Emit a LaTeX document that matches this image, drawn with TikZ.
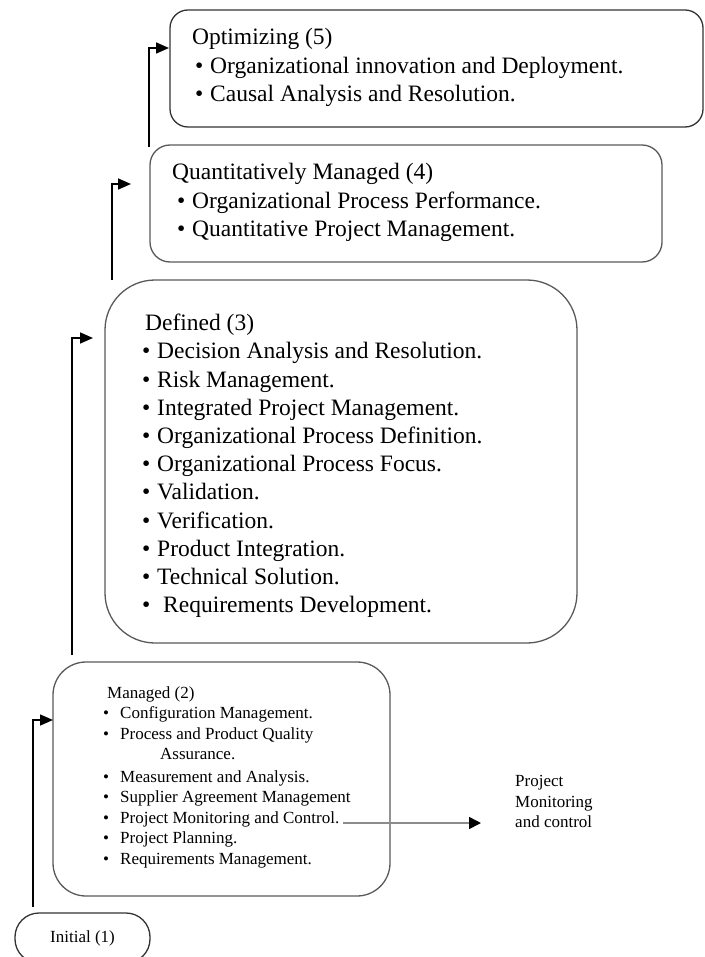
\documentclass[tikz,border=0pt]{standalone}
\usepackage{fontspec}
\setmainfont{Liberation Serif}
\usetikzlibrary{arrows.meta}

\newcommand{\bul}{\makebox[15pt][l]{\textbullet}}
\newcommand{\sbul}{\makebox[17pt][l]{\textbullet}}

\tikzset{
  stagebox/.style={draw=black!65, line width=1.3pt, inner sep=0pt},
  bigtext/.style={font=\fontsize{23.5pt}{28.5pt}\selectfont, align=left, anchor=north west, inner sep=0pt},
  smalltext/.style={font=\fontsize{17pt}{20.5pt}\selectfont, align=left, anchor=north west, inner sep=0pt},
  uparrow/.style={draw=black, line width=1.6pt, -{Triangle[length=13pt,width=11pt]}},
  sidearrow/.style={draw=black!45, line width=1.6pt, -{Triangle[length=12pt,width=12pt,black]}},
}

\begin{document}
\begin{tikzpicture}[x=1pt,y=-1pt]
\useasboundingbox (0,0) rectangle (704,957);

% the five levels
\node[stagebox, draw=black!80, rounded corners=18pt, minimum width=533pt, minimum height=117pt] (opt) at (436.5,68.5) {};
\node[stagebox, rounded corners=20pt, minimum width=512pt, minimum height=117pt] (quant) at (406,203.5) {};
\node[stagebox, rounded corners=50pt, minimum width=472pt, minimum height=363pt] (defined) at (341,461.5) {};
\node[stagebox, rounded corners=33pt, minimum width=337pt, minimum height=234pt] (managed) at (221.5,779) {};
\node[stagebox, draw=black!80, rounded corners=24pt, minimum width=135pt, minimum height=50pt,
  font=\fontsize{17pt}{20pt}\selectfont] (init) at (82.5,938) {Initial (1)};

% texts in the boxes
\node[bigtext] (optText) at (192,28) {Optimizing (5)\\
  \hspace*{3pt}\bul Organizational innovation and Deployment.\\
  \hspace*{3pt}\bul Causal Analysis and Resolution.};
\node[bigtext] (quantText) at (172,163) {Quantitatively Managed (4)\\
  \hspace*{5pt}\bul Organizational Process Performance.\\
  \hspace*{5pt}\bul Quantitative Project Management.};
\node[bigtext, font=\fontsize{23.5pt}{28.2pt}\selectfont] (definedText) at (142,314) {\hspace*{3pt}Defined (3)\\
  \bul Decision Analysis and Resolution.\\
  \bul Risk Management.\\
  \bul Integrated Project Management.\\
  \bul Organizational Process Definition.\\
  \bul Organizational Process Focus.\\
  \bul Validation.\\
  \bul Verification.\\
  \bul Product Integration.\\
  \bul Technical Solution.\\
  \bul\hspace*{6pt}Requirements Development.};
\node[smalltext] (managedText) at (103,686) {\hspace*{4pt}Managed (2)\\
  \sbul Configuration Management.\\
  \sbul Process and Product Quality\\
  \hspace*{57pt}Assurance.\\[2pt]
  \sbul Measurement and Analysis.\\
  \sbul Supplier Agreement Management\\
  \sbul Project Monitoring and Control.\\
  \sbul Project Planning.\\
  \sbul Requirements Management.};
\node[smalltext] (pmLabel) at (515,775.5) {Project\\Monitoring\\and control};

% arrows going up
\coordinate (from2) at (33,907);
\coordinate (to2) at (53,720);
\coordinate (from3) at (72,655);
\coordinate (to3) at (93,338);
\coordinate (from4) at (112,280);
\coordinate (to4) at (131,184);
\coordinate (from5) at (149,147);
\coordinate (to5) at (169,48);
\draw[uparrow] (from2) |- (to2);
\draw[uparrow] (from3) |- (to3);
\draw[uparrow] (from4) |- (to4);
\draw[uparrow] (from5) |- (to5);

% side arrow
\coordinate (pmcEnd) at (343,823);
\coordinate (pmcTip) at (481,823);
\draw[sidearrow] (pmcEnd) -- (pmcTip);
\end{tikzpicture}
\end{document}
